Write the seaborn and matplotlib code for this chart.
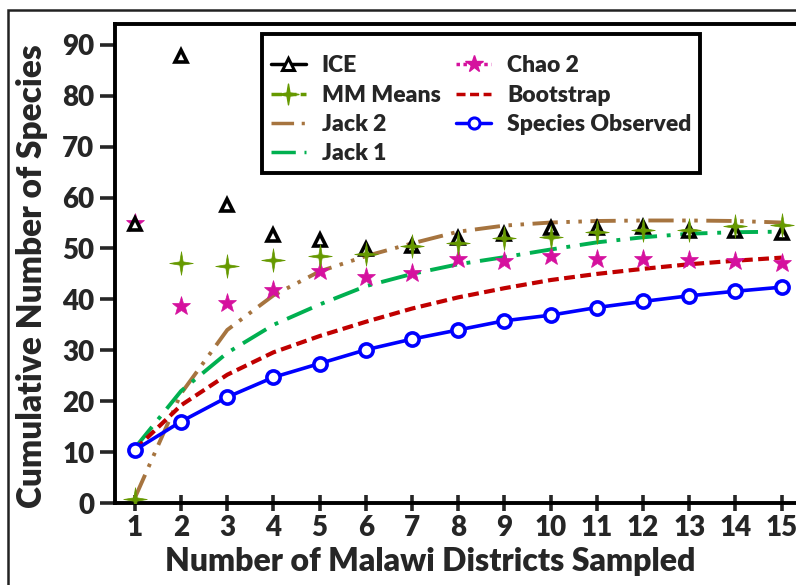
import numpy as np
import pandas as pd
import matplotlib
matplotlib.use("Agg")
import matplotlib.pyplot as plt
import seaborn as sns
from matplotlib.lines import Line2D
from matplotlib.patches import Rectangle
from matplotlib.path import Path

# ---------------- data ----------------
districts = list(range(1, 16))
species_observed = [10.4, 16.0, 20.8, 24.7, 27.4, 30.1, 32.2, 34.0, 35.8, 36.9, 38.4, 39.6, 40.7, 41.6, 42.4]
bootstrap = [10.5, 19.2, 25.2, 29.6, 32.8, 35.6, 38.2, 40.4, 42.2, 43.8, 45.0, 46.0, 46.9, 47.6, 48.2]
jack1 = [10.8, 22.0, 29.5, 35.0, 39.0, 42.6, 45.0, 46.9, 48.3, 49.8, 51.2, 52.2, 52.9, 53.2, 53.3]
jack2 = [1.0, 21.5, 34.0, 40.8, 45.5, 48.5, 51.0, 53.3, 54.5, 55.1, 55.4, 55.5, 55.5, 55.4, 55.1]
chao2 = [55.0, 38.7, 39.2, 41.9, 45.6, 44.3, 45.2, 47.9, 47.6, 48.5, 47.9, 47.9, 47.7, 47.6, 47.1]
mm_means = [0.8, 47.1, 46.6, 47.7, 48.5, 49.0, 50.4, 51.0, 52.0, 52.3, 53.3, 53.6, 53.6, 54.4, 54.6]
ice = [54.9, 87.8, 58.6, 52.7, 51.7, 49.9, 50.5, 52.0, 52.8, 54.0, 54.1, 54.3, 53.4, 53.4, 53.1]

x_ticks = list(range(1, 16))
y_ticks = list(range(0, 91, 10))
x_label = "Number of Malawi Districts Sampled"
y_label = "Cumulative Number of Species"

df = pd.DataFrame({
    "District": districts,
    "ICE": ice,
    "MM Means": mm_means,
    "Jack 2": jack2,
    "Jack 1": jack1,
    "Chao 2": chao2,
    "Bootstrap": bootstrap,
    "Species Observed": species_observed,
})

# ---------------- style ----------------
sns.set_style("white")
FAM = ["Lato", "DejaVu Sans"]
W = "heavy"
plt.rcParams["font.family"] = FAM
plt.rcParams["font.weight"] = W

C_ICE = "black"
C_MM = "#669900"
C_J2 = "#A6743F"
C_J1 = "#00B050"
C_CHAO = "#D5119E"
C_BOOT = "#C00000"
C_OBS = "#0000FF"

# 4-point star marker
r_in = 0.2
verts = []
for k in range(8):
    ang = np.pi / 2 + k * np.pi / 4
    r = 1.0 if k % 2 == 0 else r_in
    verts.append((r * np.cos(ang), r * np.sin(ang)))
verts.append(verts[0])
star4 = Path(verts, closed=True)

LS_J2 = (0, (6.5, 2.2, 0.9, 2.2, 0.9, 2.2))
LS_J1 = (0, (7, 2.5, 1, 2.5))
LS_BOOT = (0, (2.6, 1.3))

fig = plt.figure(figsize=(7.96, 5.85), dpi=100)
ax = fig.add_axes([115 / 796, 1 - 503 / 585, 686 / 796, 479 / 585])

sns.lineplot(data=df, x="District", y="Jack 2", ax=ax, color=C_J2, lw=2.8, linestyle=LS_J2, zorder=3)
sns.lineplot(data=df, x="District", y="Jack 1", ax=ax, color=C_J1, lw=2.8, linestyle=LS_J1, zorder=3)
sns.lineplot(data=df, x="District", y="Bootstrap", ax=ax, color=C_BOOT, lw=3.0, linestyle=LS_BOOT, zorder=3)
sns.lineplot(data=df, x="District", y="Species Observed", ax=ax, color=C_OBS, lw=2.6,
             marker="o", markersize=9.5, markerfacecolor="white", markeredgecolor=C_OBS,
             markeredgewidth=2.6, zorder=5)
sns.lineplot(data=df, x="District", y="Chao 2", ax=ax, color=C_CHAO, linestyle="",
             marker="*", markersize=14, markerfacecolor=C_CHAO, markeredgecolor=C_CHAO,
             markeredgewidth=0.5, zorder=4)
sns.lineplot(data=df, x="District", y="ICE", ax=ax, color=C_ICE, linestyle="",
             marker="^", markersize=9, markerfacecolor="white", markeredgecolor=C_ICE,
             markeredgewidth=2.6, zorder=4)
sns.lineplot(data=df, x="District", y="MM Means", ax=ax, color=C_MM, linestyle="",
             marker=star4, markersize=17, markerfacecolor=C_MM, markeredgecolor=C_MM,
             markeredgewidth=0.5, zorder=4)

ax.set_xlim(0.57, 15.42)
ax.set_ylim(0, 94.1)
ax.set_xticks(x_ticks)
ax.set_yticks(y_ticks)
ax.set_xlabel(x_label, fontsize=23, fontweight=W)
ax.set_ylabel(y_label, fontsize=24, fontweight=W)
ax.xaxis.set_label_coords(0.459, -0.092)
ax.yaxis.set_label_coords(-0.097, 0.474)
ax.tick_params(axis="x", direction="inout", length=12, width=2.6, labelsize=20, pad=3)
ax.tick_params(axis="y", direction="out", length=11, width=2.6, labelsize=20, pad=4, left=True)
ax.tick_params(axis="x", bottom=True)
for lab in ax.get_xticklabels() + ax.get_yticklabels():
    lab.set_fontweight(W)
for s in ax.spines.values():
    s.set_linewidth(2.8)
    s.set_color("black")

handles = [
    Line2D([], [], color=C_ICE, lw=2.5, marker="^", markersize=8, markerfacecolor="white",
           markeredgewidth=2.2, markeredgecolor=C_ICE),
    Line2D([], [], color=C_MM, lw=2.5, linestyle=(0, (3, 1.2)), marker=star4, markersize=15,
           markerfacecolor=C_MM, markeredgecolor=C_MM),
    Line2D([], [], color=C_J2, lw=2.5, linestyle=LS_J2),
    Line2D([], [], color=C_J1, lw=2.5, linestyle=LS_J1),
    Line2D([], [], color=C_CHAO, lw=2.5, linestyle=(0, (1, 1)), marker="*", markersize=13,
           markerfacecolor=C_CHAO, markeredgecolor=C_CHAO),
    Line2D([], [], color=C_BOOT, lw=2.5, linestyle=LS_BOOT),
    Line2D([], [], color=C_OBS, lw=2.5, marker="o", markersize=8, markerfacecolor="white",
           markeredgewidth=2.2, markeredgecolor=C_OBS),
]
labels = ["ICE", "MM Means", "Jack 2", "Jack 1", "Chao 2", "Bootstrap", "Species Observed"]
leg = ax.legend(handles, labels, ncol=2, loc="upper left",
                bbox_to_anchor=((262 - 115) / 686, (503 - 34) / 479),
                prop={"family": FAM, "weight": W, "size": 16.5},
                title=" ", title_fontsize=3,
                frameon=True, fancybox=False, edgecolor="black", framealpha=1,
                handlelength=1.5, handletextpad=0.7, columnspacing=0.7,
                labelspacing=0.36, borderpad=0.4, borderaxespad=0)
leg.get_frame().set_linewidth(2.8)

fig.patches.append(Rectangle((8 / 796, -0.2), 1.2, 1 - 10 / 585 + 0.2, transform=fig.transFigure,
                             fill=False, lw=1.8, edgecolor="#222222", zorder=10))

fig.savefig("out.png", dpi=100)
